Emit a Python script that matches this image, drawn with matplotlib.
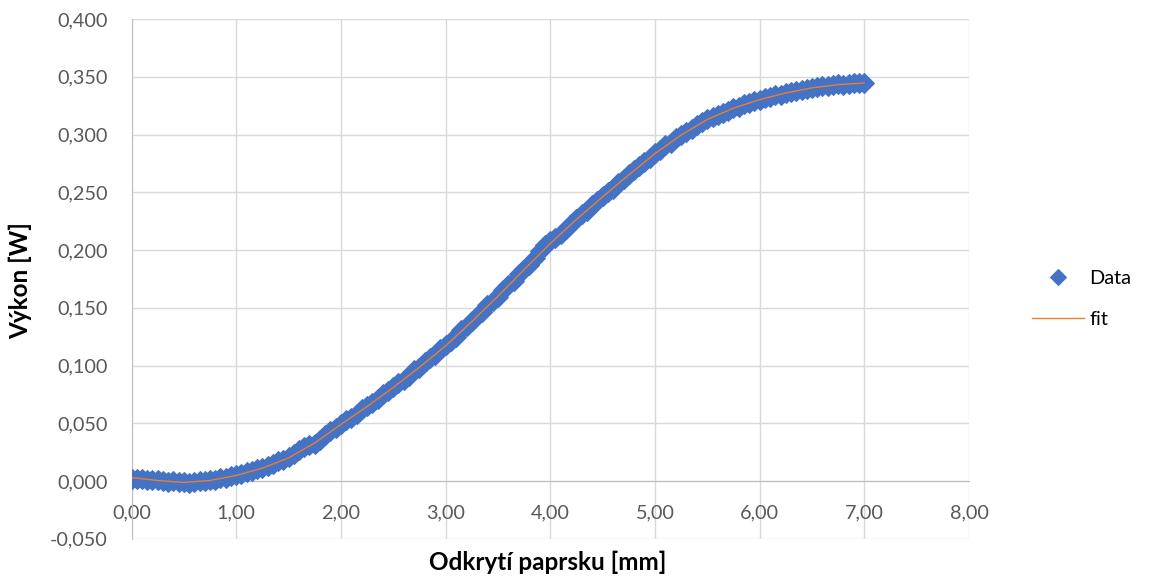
import numpy as np
import matplotlib
matplotlib.use("Agg")
import matplotlib.pyplot as plt

plt.rcParams['font.family'] = ['Lato', 'DejaVu Sans']

# measured points, every 0.05 mm from 0 to 7 mm
x_data = np.linspace(0, 7, 141)
p_data = [
    0.0020, 0.0022, 0.0018, 0.0012, 0.0008,
    0.0006, 0.0001, -0.0004, -0.0003, -0.0010,
    -0.0011, -0.0013, -0.0006, 0.0000, 0.0001,
    0.0007, 0.0012, 0.0025, 0.0030, 0.0042,
    0.0050, 0.0058, 0.0078, 0.0090, 0.0101,
    0.0115, 0.0128, 0.0151, 0.0170, 0.0186,
    0.0205, 0.0238, 0.0268, 0.0295, 0.0310,
    0.0322, 0.0358, 0.0399, 0.0430, 0.0462,
    0.0494, 0.0528, 0.0549, 0.0580, 0.0625,
    0.0650, 0.0672, 0.0708, 0.0752, 0.0782,
    0.0818, 0.0850, 0.0872, 0.0910, 0.0958,
    0.0980, 0.1030, 0.1068, 0.1092, 0.1140,
    0.1178, 0.1215, 0.1250, 0.1305, 0.1340,
    0.1388, 0.1430, 0.1462, 0.1520, 0.1562,
    0.1596, 0.1650, 0.1700, 0.1735, 0.1790,
    0.1832, 0.1872, 0.1935, 0.1995, 0.2040,
    0.2075, 0.2100, 0.2135, 0.2178, 0.2228,
    0.2270, 0.2310, 0.2340, 0.2390, 0.2425,
    0.2465, 0.2500, 0.2530, 0.2580, 0.2615,
    0.2655, 0.2690, 0.2728, 0.2765, 0.2795,
    0.2838, 0.2865, 0.2905, 0.2930, 0.2968,
    0.2998, 0.3025, 0.3045, 0.3080, 0.3105,
    0.3132, 0.3148, 0.3172, 0.3190, 0.3206,
    0.3230, 0.3240, 0.3262, 0.3270, 0.3290,
    0.3300, 0.3316, 0.3324, 0.3340, 0.3346,
    0.3362, 0.3368, 0.3380, 0.3385, 0.3398,
    0.3406, 0.3410, 0.3418, 0.3420, 0.3428,
    0.3435, 0.3432, 0.3440, 0.3442, 0.3445,
    0.3444,
]

# fit curve, every 0.25 mm
x_fit = np.linspace(0, 7, 29)
p_fit = [
    0.0030, 0.0005, -0.0012, 0.0005, 0.0048, 0.0112, 0.0200, 0.0330,
    0.0490, 0.0645, 0.0810, 0.0985, 0.1170, 0.1380, 0.1600, 0.1830,
    0.2056, 0.2265, 0.2460, 0.2650, 0.2835, 0.2995, 0.3130, 0.3228,
    0.3302, 0.3360, 0.3404, 0.3432, 0.3446,
]

x_ticks = np.arange(0, 8.01, 1.0)
y_ticks = np.arange(-0.05, 0.4001, 0.05)

fig = plt.figure(figsize=(11.49, 5.77), dpi=100)
ax = fig.add_axes([131.5 / 1149, 1 - 538.8 / 577, (969 - 131.5) / 1149, (538.8 - 19) / 577])

ax.plot(x_data, p_data, linestyle='none', marker='D', ms=9.8, mfc='#4472C4',
        mec='#4472C4', mew=0.75, label='Data', zorder=3)
ax.plot(x_fit, p_fit, color='#ED7D31', lw=1.0, label='fit', zorder=4)

ax.set_xlim(0, 8)
ax.set_ylim(-0.05, 0.4)
ax.set_xticks(x_ticks)
ax.set_yticks(y_ticks)
ax.set_xticklabels([f"{v:.2f}".replace('.', ',') for v in x_ticks])
ax.set_yticklabels([f"{v:.3f}".replace('.', ',') for v in y_ticks])

ax.grid(True, color='#D9D9D9', lw=1.0)
ax.set_axisbelow(True)
for s in ['top', 'right']:
    ax.spines[s].set_visible(False)
ax.spines['bottom'].set_position(('data', 0))
ax.spines['bottom'].set_color('#BFBFBF')
ax.spines['left'].set_color('#BFBFBF')
ax.tick_params(axis='both', length=0, labelsize=14.3, labelcolor='#595959')
ax.tick_params(axis='x', pad=17)
ax.tick_params(axis='y', pad=17)

fig.text(548 / 1149, 1 - 562 / 577, 'Odkrytí paprsku [mm]', ha='center', va='center',
         fontsize=17.5, fontweight='bold')
fig.text(20 / 1149, 1 - 281 / 577, 'Výkon [W]', ha='center', va='center',
         rotation=90, fontsize=17.5, fontweight='bold')

fig.legend(loc='center left', bbox_to_anchor=(1032 / 1149, 1 - 299 / 577),
           frameon=False, fontsize=14.3, handlelength=2.6, handletextpad=0.3,
           labelspacing=1.2, borderpad=0, borderaxespad=0, markerscale=0.82)

fig.savefig('out.png', dpi=100)
